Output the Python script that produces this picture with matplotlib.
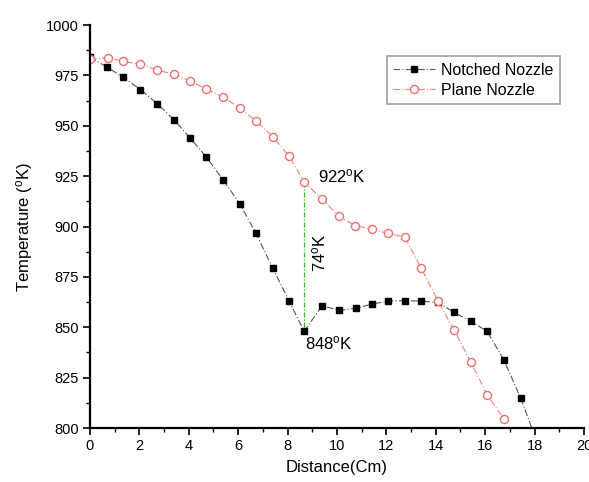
import numpy as np
import matplotlib.pyplot as plt
from matplotlib.ticker import MultipleLocator

plt.rcParams["font.family"] = ["Liberation Sans", "DejaVu Sans"]
plt.rcParams["mathtext.fontset"] = "custom"
plt.rcParams["mathtext.rm"] = "Liberation Sans"

# axial temperature profiles
notched_x = [0.0, 0.67, 1.35, 2.04, 2.72, 3.40, 4.05, 4.71, 5.40, 6.08, 6.72, 7.40,
             8.06, 8.67, 9.40, 10.08, 10.75, 11.42, 12.06, 12.74, 13.41, 14.08,
             14.74, 15.41, 16.08, 16.76, 17.44, 18.10]
notched_T = [984, 979.3, 974, 968, 961, 953, 944, 934.5, 923, 911, 896.6, 879.3,
             863, 848, 860.7, 858.4, 859.4, 861.5, 863, 863.2, 863, 862.3,
             857.4, 853, 848, 833.7, 814.7, 793]

plane_x = [0.0, 0.72, 1.35, 2.04, 2.72, 3.40, 4.05, 4.71, 5.40, 6.07, 6.72, 7.40,
           8.07, 8.67, 9.40, 10.07, 10.74, 11.42, 12.08, 12.74, 13.41, 14.09,
           14.74, 15.41, 16.08, 16.76]
plane_T = [983, 983.8, 982, 980.5, 977.7, 975.5, 972.2, 968.4, 964.1, 958.8, 952.4, 944.6,
           934.8, 922, 913.7, 905, 900.5, 898.6, 896.6, 894.8, 879.4, 863,
           848.6, 832.9, 816.4, 804.5]

gap_x = 8.67
gap_hi, gap_lo = 922, 848

fig = plt.figure(figsize=(5.89, 4.82), dpi=100)
ax = fig.add_axes([0.1528, 0.112, 0.8387, 0.836])

ax.plot(notched_x, notched_T, ls=(0, (6, 2, 1, 2)), lw=0.8, color="#555555",
        marker="s", ms=4.6, mfc="black", mec="black", label="Notched Nozzle")
ax.plot(plane_x, plane_T, ls=(0, (6, 2, 1, 2)), lw=0.8, color="#f08080",
        marker="o", ms=5.8, mfc="white", mec="#f07070", mew=1.0, label="Plane Nozzle")

# temperature gap at the notch
ax.plot([gap_x, gap_x], [gap_hi, gap_lo], ls=(0, (4, 1.5, 1, 1.5)), lw=0.9,
        color="#33bb33", zorder=1)
ax.text(gap_x + 0.55, gap_hi + 3, f"{gap_hi}$\\mathregular{{^o}}$K", fontsize=12,
        ha="left", va="center")
ax.text(gap_x + 0.05, gap_lo - 6, f"{gap_lo}$\\mathregular{{^o}}$K", fontsize=12,
        ha="left", va="center")
ax.text(gap_x + 0.6, (gap_hi + gap_lo) / 2 + 2, f"{gap_hi - gap_lo}$\\mathregular{{^o}}$K",
        fontsize=12, rotation=90, ha="center", va="center")

ax.set_xlim(0, 20)
ax.set_ylim(800, 1000)
ax.xaxis.set_major_locator(MultipleLocator(2))
ax.xaxis.set_minor_locator(MultipleLocator(1))
ax.yaxis.set_major_locator(MultipleLocator(25))
ax.yaxis.set_minor_locator(MultipleLocator(12.5))
ax.tick_params(which="major", direction="out", length=5, width=1.2, labelsize=10.5,
               colors="black", pad=3)
ax.tick_params(which="minor", direction="out", length=3, width=1.0)

for s in ("top", "right"):
    ax.spines[s].set_visible(False)
for s in ("left", "bottom"):
    ax.spines[s].set_linewidth(1.6)

ax.set_xlabel("Distance(Cm)", fontsize=12, labelpad=5)
ax.set_ylabel("Temperature ($\\mathregular{^o}$K)", fontsize=12, labelpad=8)

leg = ax.legend(loc="upper left", bbox_to_anchor=(0.585, 0.942), fontsize=11.5,
                frameon=True, fancybox=False, edgecolor="#888888",
                handlelength=2.6, borderpad=0.4, labelspacing=0.3, handletextpad=0.4)
leg.get_frame().set_linewidth(1.2)

fig.savefig("out.png", dpi=100)
